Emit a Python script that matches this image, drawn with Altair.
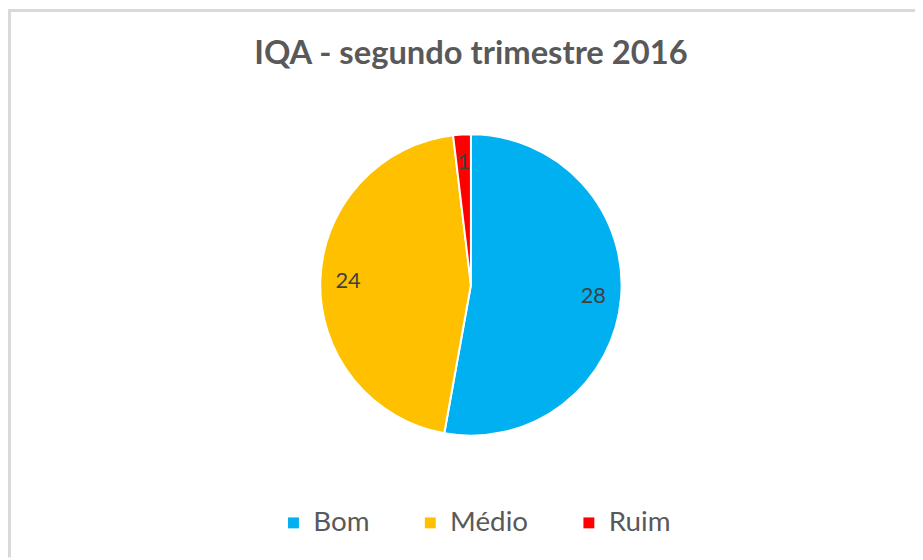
import altair as alt
import pandas as pd

categories = ["Bom", "Médio", "Ruim"]
values = [28, 24, 1]
colors = ["#00B0F0", "#FFC000", "#FF0000"]
title_text = "IQA - segundo trimestre 2016"

df = pd.DataFrame({"cat": categories, "val": values, "order": list(range(len(categories)))})

W, H = 915, 552
CX, CY = 467, 277
R = 152

base = alt.Chart(df).encode(
    theta=alt.Theta("val:Q", stack=True),
    order=alt.Order("order:Q"),
)

pie = base.mark_arc(outerRadius=R, stroke="white", strokeWidth=2).encode(
    color=alt.Color(
        "cat:N",
        scale=alt.Scale(domain=categories, range=colors),
        sort=categories,
        legend=alt.Legend(
            title=None,
            orient="none",
            legendX=274,
            legendY=503,
            direction="horizontal",
            symbolType="square",
            symbolSize=121,
            symbolStrokeWidth=0,
            labelFontSize=28,
            labelFont="Lato",
            labelColor="#595959",
            labelOffset=6,
            columnPadding=47,
            padding=0,
        ),
    ),
    x=alt.value(CX),
    y=alt.value(CY),
)

labels = base.mark_text(radius=124, font="Lato", fontSize=22, color="#404040").encode(
    text=alt.Text("val:Q"),
    x=alt.value(CX),
    y=alt.value(CY),
)

title = alt.Chart(pd.DataFrame({"t": [title_text]})).mark_text(
    font="Lato", fontSize=33, fontWeight="bold", color="#595959", baseline="alphabetic"
).encode(
    text="t:N",
    x=alt.value(CX),
    y=alt.value(54),
)

border = alt.Chart(pd.DataFrame({"b": [0]})).mark_rule(color="#D9D9D9", strokeWidth=3).encode(
    x=alt.value(0), y=alt.value(0), x2=alt.value(W), y2=alt.value(0)
)
border_left = alt.Chart(pd.DataFrame({"b": [0]})).mark_rule(color="#D9D9D9", strokeWidth=3).encode(
    x=alt.value(1.5), x2=alt.value(1.5), y=alt.value(0), y2=alt.value(H)
)

chart = alt.layer(border, border_left, pie, labels, title).properties(
    width=W,
    height=H,
    autosize=alt.AutoSizeParams(type="none"),
    padding=0,
    background="white",
).configure_view(stroke=None)

chart.save("out.html", embed_options={"renderer": "svg", "actions": False})
